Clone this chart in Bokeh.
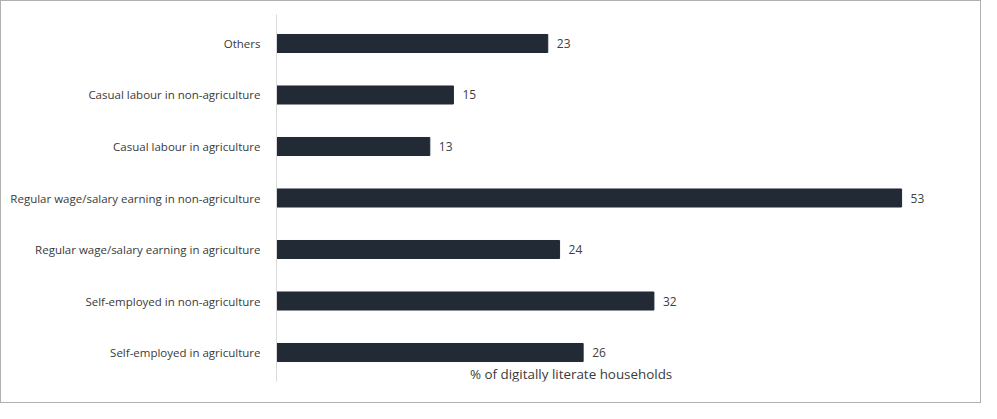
from bokeh.plotting import figure
from bokeh.models import Range1d, Label, ColumnDataSource, FactorRange
from bokeh.core.properties import value
from bokeh.embed import file_html
from bokeh.resources import INLINE

categories = [
    "Self-employed in agriculture",
    "Self-employed in non-agriculture",
    "Regular wage/salary earning in agriculture",
    "Regular wage/salary earning in non-agriculture",
    "Casual labour in agriculture",
    "Casual labour in non-agriculture",
    "Others",
]
values = [26, 32, 24, 53, 13, 15, 23]
value_labels = [str(v) for v in values]
x_label = "% of digitally literate households"

src = ColumnDataSource(dict(cat=categories, val=values, lab=value_labels))

W, H = 981, 403
p = figure(width=W, height=H,
           y_range=FactorRange(factors=categories, range_padding=0.063,
                               range_padding_units="absolute"),
           x_range=Range1d(0, 57.4),
           output_backend="svg", toolbar_location=None,
           min_border_left=275, min_border_right=29,
           min_border_top=13, min_border_bottom=23)
p.styles = {"border": "1px solid #b0b0b0", "box-sizing": "border-box"}
p.outline_line_color = None
p.xgrid.visible = False
p.ygrid.visible = False
p.xaxis.visible = False
p.background_fill_color = "white"
p.border_fill_color = "white"

p.hbar(y="cat", right="val", left=0, height=0.35, source=src,
       fill_color="#222a35", line_color="#222a35")
p.text(x="val", y="cat", text="lab", source=src, x_offset=9,
       text_baseline="middle", text_align="left",
       text_font=value("Open Sans"), text_font_size="12px", text_color="#404040")

ya = p.yaxis[0]
ya.major_tick_line_color = None
ya.minor_tick_line_color = None
ya.axis_line_color = "#d9d9d9"
ya.major_label_text_font = "Open Sans"
ya.major_label_text_font_size = "11.5px"
ya.major_label_text_color = "#3a3a3a"
ya.major_label_standoff = 10

p.add_layout(Label(x=16.4, y=0.09, text=x_label, text_align="left",
                   text_baseline="middle", text_font="Open Sans",
                   text_font_size="13.4px", text_color="#3a3a3a"))

open("out.html", "w").write(file_html(p, INLINE))
